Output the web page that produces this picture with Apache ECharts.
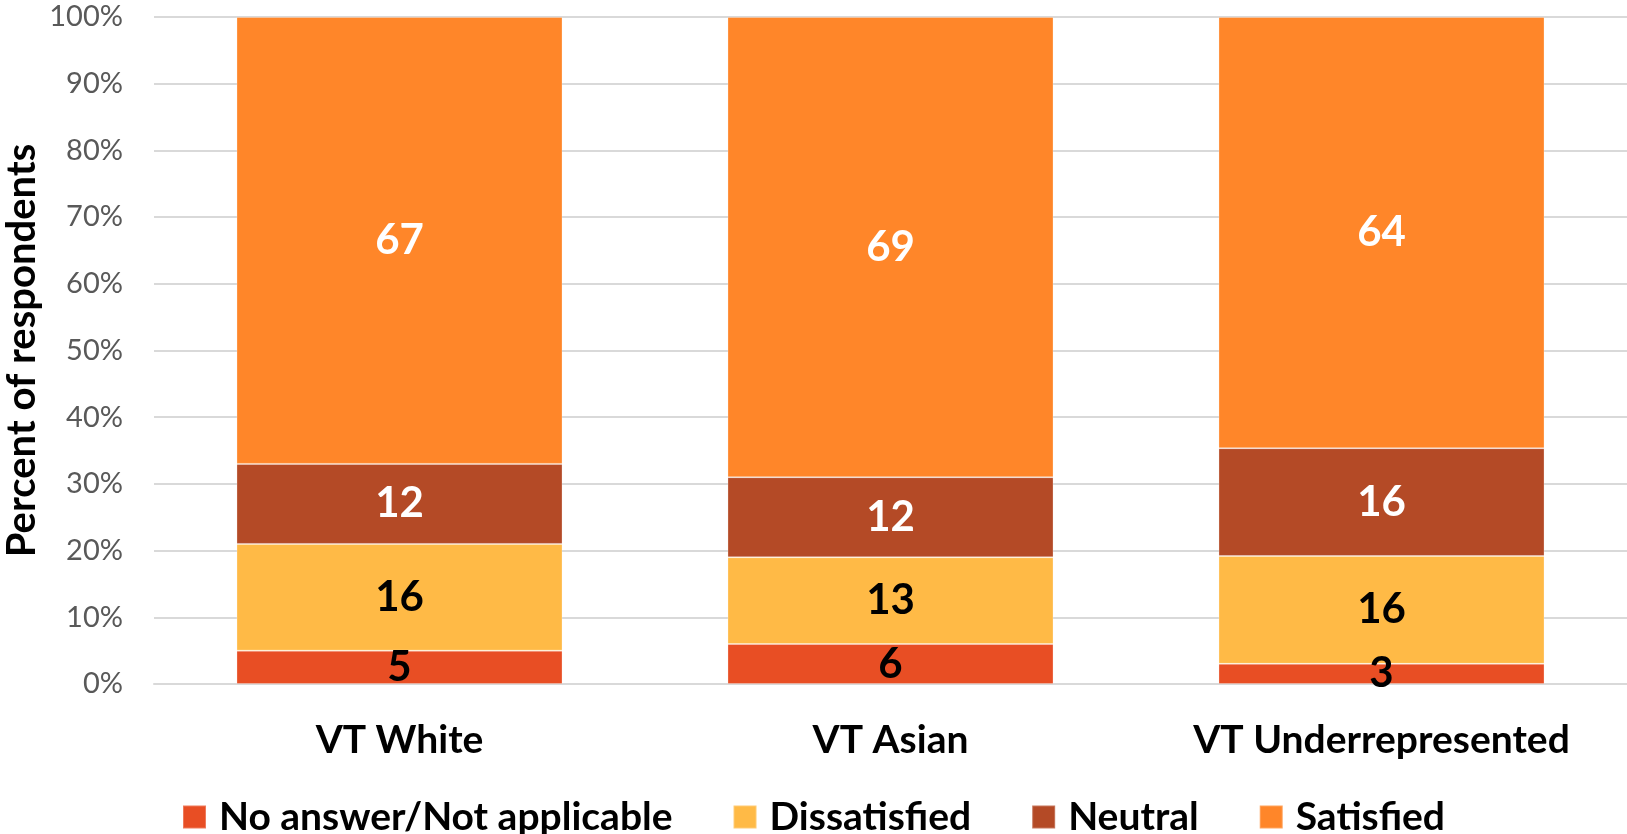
<!DOCTYPE html>
<html>
<head>
<meta charset="utf-8">
<script src="https://cdn.jsdelivr.net/npm/echarts@6/dist/echarts.min.js"></script>
<style>
  html, body { margin: 0; padding: 0; background: #ffffff; }
  #chart { width: 1627px; height: 834px; }
</style>
</head>
<body>
<div id="chart"></div>
<script>
// Survey groups and response shares (percent of respondents)
const categories = ['VT White', 'VT Asian', 'VT Underrepresented'];
const seriesNames = ['No answer/Not applicable', 'Dissatisfied', 'Neutral', 'Satisfied'];
const noAnswer = [5, 6, 3];
const dissatisfied = [16, 13, 16];
const neutral = [12, 12, 16];
const satisfied = [67, 69, 64];
const yTickLabels = ['0%', '10%', '20%', '30%', '40%', '50%', '60%', '70%', '80%', '90%', '100%'];

const rows = [noAnswer, dissatisfied, neutral, satisfied];
const colors = ['#E84E24', '#FFBA46', '#B44A26', '#FF8629'];
const labelColors = ['#000000', '#000000', '#ffffff', '#ffffff'];

// Each bar is scaled to a full 100% column; labels keep the reported value.
const totals = categories.map((_, i) => rows.reduce((s, r) => s + r[i], 0));

const FONT = 'Lato, "Open Sans", sans-serif';

const series = rows.map((vals, k) => ({
  name: seriesNames[k],
  type: 'bar',
  stack: 'total',
  barWidth: '66.4%',
  itemStyle: { color: colors[k], borderColor: 'rgba(255,255,255,0.25)', borderWidth: 1 },
  label: {
    show: true,
    position: 'inside',
    color: labelColors[k],
    fontFamily: FONT,
    fontWeight: 'bold',
    fontSize: 42,
    formatter: p => String(vals[p.dataIndex])
  },
  data: vals.map((v, i) => v / totals[i] * 100)
}));

const chart = echarts.init(document.getElementById('chart'), null, { renderer: 'canvas' });
chart.setOption({
  animation: false,
  backgroundColor: '#ffffff',
  textStyle: { fontFamily: FONT },
  grid: {
    left: 154, right: 0, top: 17, bottom: 150,
    containLabel: false, outerBoundsMode: 'none'
  },
  legend: {
    data: seriesNames,
    top: 792,
    left: 'center',
    itemWidth: 23,
    itemHeight: 23,
    itemGap: 60,
    icon: 'rect',
    textStyle: {
      fontFamily: FONT, fontWeight: 'bold', fontSize: 39, color: '#000000',
      lineHeight: 40, padding: [0, 0, 0, 8]
    }
  },
  xAxis: {
    type: 'category',
    data: categories,
    axisTick: { show: false },
    axisLine: { show: true, lineStyle: { color: '#d9d9d9', width: 2 } },
    axisLabel: {
      interval: 0,
      hideOverlap: false,
      margin: 37,
      color: '#000000',
      fontFamily: FONT,
      fontWeight: 'bold',
      fontSize: 39,
      lineHeight: 39
    }
  },
  yAxis: {
    type: 'value',
    min: 0,
    max: 100,
    interval: 10,
    name: 'Percent of respondents',
    nameLocation: 'middle',
    nameRotate: 90,
    nameGap: 112,
    nameMoveOverlap: false,
    nameTextStyle: { fontFamily: FONT, fontWeight: 'bold', fontSize: 40, color: '#000000' },
    axisLine: { show: false },
    axisTick: { show: false },
    splitLine: { lineStyle: { color: '#d9d9d9', width: 2 } },
    axisLabel: {
      margin: 31,
      color: '#595959',
      fontFamily: FONT,
      fontSize: 29,
      formatter: v => yTickLabels[Math.round(v / 10)]
    }
  },
  series: series
});
</script>
</body>
</html>
